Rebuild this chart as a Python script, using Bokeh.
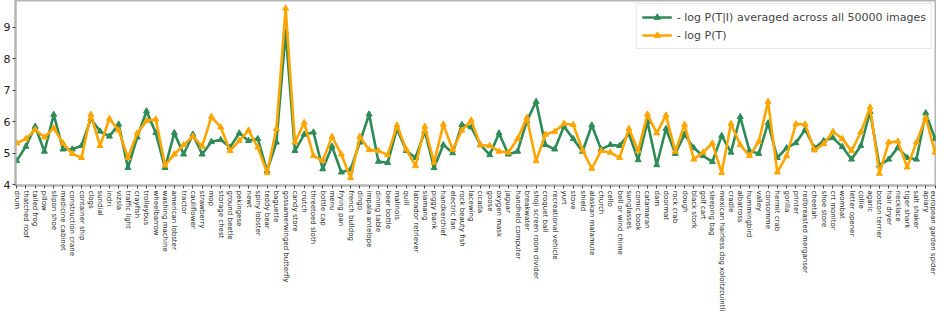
import math
from bokeh.plotting import figure
from bokeh.models import Range1d, FixedTicker
from bokeh.embed import file_html
from bokeh.resources import INLINE

categories = ["drum", "thatched roof", "tailed frog", "pillow", "slipon shoe", "medicine cabinet",
    "construction crane", "container ship", "clogs", "sundial", "indri", "vizsla", "traffic light",
    "crayfish", "trolleybus", "wheelbarrow", "washing machine", "american lobster", "tractor",
    "cauliflower", "strawberry", "mop", "storage chest", "ground beetle", "pekingese", "newt",
    "spiny lobster", "teddy bear", "baguette", "gossamerwinged butterfly", "candy store", "crutch",
    "threetoed sloth", "bottle cap", "menu", "frying pan", "french bulldog", "dingo",
    "impala antelope", "dining table", "beer bottle", "malinois", "quill", "labrador retriever",
    "siamang", "piggy bank", "handkerchief", "electric fan", "rock beauty fish", "lacewing",
    "cicada", "goose", "oxygen mask", "jaguar", "handheld computer", "breakwater",
    "shoji screen room divider", "croquet ball", "recreational vehicle", "yurt", "stove", "shield",
    "alaskan malamute", "church", "cello", "bell or wind chime", "sunglasses", "comic book",
    "catamaran", "dam", "doormat", "rock crab", "dough", "black stork", "golf cart", "sleeping bag",
    "mexican hairless dog xoloitzcuintli", "cradle", "albatross", "hummingbird", "valley",
    "consomme", "hermit crab", "gorilla", "printer", "redbreasted merganser", "cheetah",
    "shoe store", "crt monitor", "wombat", "letter opener", "collie", "agaric", "boston terrier",
    "hair dryer", "necklace", "tiger shark", "salt shaker", "apiary", "european garden spider"]

cond_logp = [4.76, 5.22, 5.85, 5.06, 6.23, 5.13, 5.13, 5.24, 6.10, 5.70,
             5.54, 5.92, 4.54, 5.51, 6.34, 5.65, 4.54, 5.65, 4.97, 5.60,
             4.97, 5.37, 5.43, 5.19, 5.64, 5.40, 5.46, 4.44, 5.35, 8.85,
             5.08, 5.60, 5.67, 4.50, 5.22, 4.40, 4.49, 5.35, 6.24, 4.74,
             4.70, 5.78, 5.08, 4.86, 5.70, 4.54, 5.27, 5.01, 5.91, 5.83,
             5.27, 4.95, 5.64, 4.97, 5.06, 6.03, 6.64, 5.27, 5.13, 5.85,
             5.46, 5.06, 5.89, 5.13, 5.27, 5.24, 5.62, 4.79, 6.00, 4.63,
             5.78, 4.99, 5.60, 5.17, 4.92, 4.73, 5.56, 5.03, 6.16, 5.08,
             4.99, 5.96, 4.86, 5.17, 5.33, 5.76, 5.17, 5.40, 5.49, 5.21,
             4.81, 5.24, 6.32, 4.62, 4.81, 5.19, 4.86, 4.81, 6.28, 5.46]

prior_logp = [5.32, 5.46, 5.75, 5.51, 5.80, 5.32, 4.99, 4.86, 6.23, 5.24,
              6.10, 5.73, 4.86, 5.64, 6.03, 6.08, 4.62, 4.97, 5.27, 5.54,
              5.22, 6.16, 5.83, 5.08, 5.40, 5.73, 5.19, 4.38, 5.78, 9.60,
              5.35, 5.97, 4.92, 4.77, 5.53, 4.97, 4.22, 5.53, 5.11, 5.08,
              4.95, 5.89, 5.13, 4.60, 5.85, 4.70, 5.92, 5.11, 5.73, 6.05,
              5.26, 5.24, 5.06, 5.03, 5.46, 6.13, 4.76, 5.60, 5.69, 5.94,
              5.91, 5.10, 4.52, 5.08, 5.03, 4.86, 5.78, 5.08, 6.24, 5.64,
              6.21, 5.06, 5.91, 4.81, 5.03, 5.32, 4.38, 5.94, 5.27, 4.92,
              5.37, 6.64, 4.40, 4.92, 5.93, 5.92, 5.10, 5.30, 5.69, 5.46,
              5.08, 5.67, 6.46, 4.36, 5.35, 5.38, 4.56, 5.35, 6.13, 5.03]

y_ticks = [4, 5, 6, 7, 8, 9]

xs = list(range(len(categories)))
GREEN = "#2e8b57"
ORANGE = "#ffa500"
FONT = "DejaVu Sans"

p = figure(width=936, height=314, output_backend="svg", toolbar_location=None,
           x_range=Range1d(-0.12, 99.05), y_range=Range1d(3.98, 9.85),
           min_border_left=0, min_border_right=1, min_border_top=0, min_border_bottom=0)

lab1 = "- log P(T|I) averaged across all 50000 images"
lab2 = "- log P(T)"
p.line(xs, cond_logp, color=GREEN, line_width=2.6, legend_label=lab1)
p.scatter(xs, cond_logp, marker="triangle", size=6, color=GREEN, legend_label=lab1)
p.line(xs, prior_logp, color=ORANGE, line_width=2.6, legend_label=lab2)
p.scatter(xs, prior_logp, marker="triangle", size=6, color=ORANGE, legend_label=lab2)

p.xgrid.visible = False
p.ygrid.visible = False
p.outline_line_color = "#b5b5b5"
p.outline_line_width = 2

p.xaxis.ticker = FixedTicker(ticks=xs)
p.xaxis.major_label_overrides = {i: c for i, c in enumerate(categories)}
p.xaxis.major_label_orientation = -math.pi / 2
p.xaxis.major_label_text_font = FONT
p.xaxis.major_label_text_font_size = "7px"
p.xaxis.major_label_text_color = "#222222"
p.xaxis.major_label_standoff = 2
p.xaxis.minor_tick_line_color = None

p.yaxis.ticker = FixedTicker(ticks=y_ticks)
p.yaxis.major_label_text_font = FONT
p.yaxis.major_label_text_font_size = "11px"
p.yaxis.major_label_text_color = "#222222"
p.yaxis.major_label_standoff = 2
p.yaxis.minor_tick_line_color = None

for ax in (p.xaxis, p.yaxis):
    ax.axis_line_color = "#b5b5b5"
    ax.axis_line_width = 2
    ax.major_tick_line_color = "#444444"
    ax.major_tick_out = 3
    ax.major_tick_in = 0

p.legend.location = "top_right"
p.legend.margin = 3
p.legend.padding = 5
p.legend.spacing = 2
p.legend.label_text_font = FONT
p.legend.label_text_font_size = "11px"
p.legend.glyph_width = 30
p.legend.glyph_height = 16
p.legend.label_height = 16
p.legend.border_line_color = "#cccccc"
p.legend.background_fill_alpha = 0.9

open("out.html", "w").write(file_html(p, INLINE))
